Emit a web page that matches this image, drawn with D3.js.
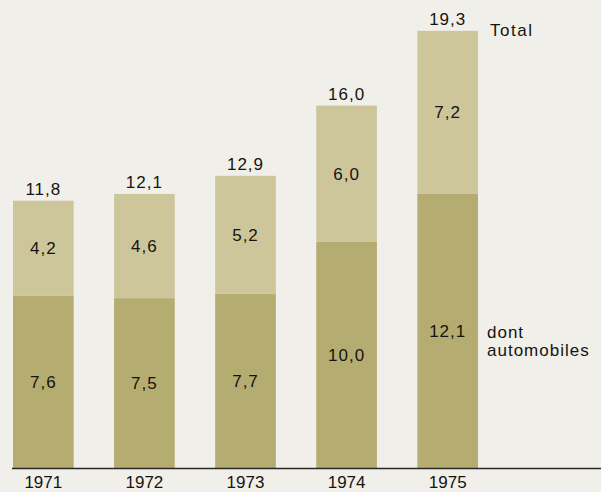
<!DOCTYPE html>
<html>
<head>
<meta charset="utf-8">
<script src="https://cdn.jsdelivr.net/npm/d3@7"></script>
<style>
  html, body { margin: 0; padding: 0; background: #f1efea; }
  svg { display: block; }
  text { font-family: "Liberation Sans", Arial, sans-serif; fill: #15140f; }
</style>
</head>
<body>
<svg id="chart" width="601" height="492"></svg>
<script>
// Years and the two stacked parts (automobiles at the bottom, the rest on top)
const years = ["1971", "1972", "1973", "1974", "1975"];
const automobiles = [7.6, 7.5, 7.7, 10.0, 12.1];
const autres = [4.2, 4.6, 5.2, 6.0, 7.2];
const totals = [11.8, 12.1, 12.9, 16.0, 19.3];

const fmt = v => d3.format(".1f")(v).replace(".", ",");

const svg = d3.select("#chart");
const W = 601, H = 492;
const baseY = 468;

const x = d3.scaleBand()
  .domain(years)
  .range([13, 478])
  .paddingInner(0.4)
  .paddingOuter(0);

const y = d3.scaleLinear()
  .domain([0, 20])
  .range([baseY, baseY - 453]);

const rows = years.map((yr, i) => ({
  year: yr, auto: automobiles[i], rest: autres[i], total: totals[i]
}));

const stack = d3.stack().keys(["auto", "rest"]);
const layers = stack(rows);
const colors = { auto: "#b4ac70", rest: "#cdc69b" };

svg.append("g")
  .selectAll("g")
  .data(layers)
  .join("g")
  .attr("fill", d => colors[d.key])
  .selectAll("rect")
  .data(d => d)
  .join("rect")
  .attr("x", d => x(d.data.year))
  .attr("width", x.bandwidth())
  .attr("y", d => y(d[1]))
  .attr("height", d => y(d[0]) - y(d[1]));

// Values inside each segment
const inner = svg.append("g")
  .attr("text-anchor", "middle")
  .style("font-size", "17px")
  .style("letter-spacing", "1px");

layers.forEach(layer => {
  inner.selectAll(null)
    .data(layer)
    .join("text")
    .attr("x", d => x(d.data.year) + x.bandwidth() / 2)
    .attr("y", d => (y(d[0]) + y(d[1])) / 2 + 6)
    .text(d => fmt(d[1] - d[0]));
});

// Totals above the bars
svg.append("g")
  .attr("text-anchor", "middle")
  .style("font-size", "17px")
  .style("letter-spacing", "1px")
  .selectAll("text")
  .data(rows)
  .join("text")
  .attr("x", d => x(d.year) + x.bandwidth() / 2)
  .attr("y", d => y(d.total) - 6)
  .text(d => fmt(d.total));

// Baseline
svg.append("line")
  .attr("x1", 12).attr("x2", W)
  .attr("y1", baseY + 0.5).attr("y2", baseY + 0.5)
  .attr("stroke", "#2a2824")
  .attr("stroke-width", 1.5);

// Year axis
const axis = svg.append("g")
  .attr("transform", `translate(0,${baseY})`)
  .call(d3.axisBottom(x).tickSize(0));
axis.select(".domain").remove();
axis.selectAll("text")
  .attr("y", 20)
  .attr("dy", 0)
  .style("font-size", "17px")
  .style("font-family", "'Liberation Sans', Arial, sans-serif")
  .attr("fill", "#15140f");

// Series labels on the right of the last bar
const last = rows[rows.length - 1];
const labelX = x(last.year) + x.bandwidth() + 12;
svg.append("text")
  .attr("x", labelX)
  .attr("y", y(last.total) + 5)
  .style("font-size", "17px")
  .style("letter-spacing", "1.5px")
  .text("Total");

const autoMid = (y(0) + y(last.auto)) / 2;
const lbl = svg.append("text")
  .attr("x", labelX - 3)
  .attr("y", autoMid + 7)
  .style("font-size", "17px")
  .style("letter-spacing", "1px");
lbl.append("tspan").attr("x", labelX - 3).text("dont");
lbl.append("tspan").attr("x", labelX - 3).attr("dy", 18).text("automobiles");
</script>
</body>
</html>
